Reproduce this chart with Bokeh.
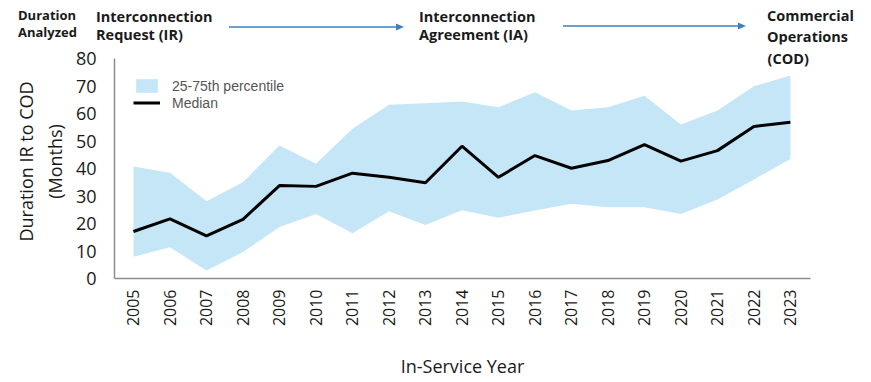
from bokeh.plotting import figure
from bokeh.layouts import column
from bokeh.models import Label, Legend, LegendItem, FixedTicker, Range1d, Div
from bokeh.embed import file_html
from bokeh.resources import INLINE

years = list(range(2005, 2024))
median = [17.1, 21.7, 15.5, 21.5, 33.8, 33.5, 38.3, 36.8, 34.8, 48.1, 36.8, 44.7,
          40.1, 42.9, 48.7, 42.7, 46.5, 55.3, 56.8]
p75 = [40.7, 38.5, 28.1, 35.0, 48.4, 41.7, 54.5, 63.2, 63.7, 64.4, 62.3, 67.7,
       61.1, 62.3, 66.5, 56.0, 61.1, 69.9, 73.8]
p25 = [7.9, 11.4, 2.9, 9.6, 18.7, 23.5, 16.5, 24.5, 19.5, 24.8, 22.1, 24.7,
       27.2, 25.9, 25.9, 23.5, 28.7, 36.0, 43.5]
y_ticks = [0, 10, 20, 30, 40, 50, 60, 70, 80]
stages = ["Interconnection<br>Request (IR)", "Interconnection<br>Agreement (IA)",
          "Commercial<br>Operations"]

FONT = "Open Sans"
TXT = "#1a1a1a"
ACOL = "#3D7FBF"
W = 865
HEAD_H = 44
MAIN_H = 337

# ---------------- header strip (HTML) ----------------
def block(html, left, top, size, lh):
    return (f'<div style="position:absolute;left:{left}px;top:{top}px;font-size:{size}px;'
            f'line-height:{lh}px;white-space:nowrap;">{html}</div>')


def arrow(x1, x2, y):
    return (f'<line x1="{x1}" y1="{y}" x2="{x2 - 7}" y2="{y}" stroke="{ACOL}" stroke-width="1.5"/>'
            f'<polygon points="{x2 - 8},{y - 3.5} {x2},{y} {x2 - 8},{y + 3.5}" fill="{ACOL}"/>')


html = (f'<div style="position:relative;width:{W}px;height:{HEAD_H}px;font-family:\'{FONT}\';'
        f'font-weight:bold;color:{TXT};overflow:visible;">'
        + block("Duration<br>Analyzed", 18, 7, 13, 17)
        + block(stages[0], 96, 7.5, 14.5, 18)
        + block(stages[1], 419, 7.5, 14.5, 18)
        + block(stages[2], 767, 4.6, 14.5, 21.5)
        + f'<svg style="position:absolute;left:0;top:0;" width="{W}" height="{HEAD_H}">'
        + arrow(229, 404, 27) + arrow(563, 746, 26)
        + '</svg></div>')
head = Div(text=html, width=W, height=HEAD_H, margin=(0, 0, 0, 0))

# ---------------- main chart ----------------
FL, FR, FB = 114, 810, 234          # frame edges in main-figure pixels
X0, X1 = 2004.48, 2023.55
PX_PER_UNIT = 2.75
Y_TOP = FB / PX_PER_UNIT            # frame starts at top of main figure

p = figure(width=W, height=MAIN_H, output_backend="svg", toolbar_location=None,
           x_range=Range1d(X0, X1), y_range=Range1d(0, Y_TOP),
           min_border_left=FL, min_border_top=0, min_border_right=W - FR,
           min_border_bottom=MAIN_H - FB, margin=(0, 0, 0, 0))
p.outline_line_color = None
p.xgrid.visible = False
p.ygrid.visible = False

band = p.varea(x=years, y1=p25, y2=p75, fill_color="#C5E6F6")
med = p.line(x=years, y=median, line_color="black", line_width=3)

legend = Legend(items=[LegendItem(label="25-75th percentile", renderers=[band]),
                       LegendItem(label="Median", renderers=[med])],
                location=(19, FB - 67))
legend.border_line_color = None
legend.background_fill_alpha = 0
legend.margin = 0
legend.padding = 0
legend.spacing = 0
legend.glyph_width = 27
legend.glyph_height = 17
legend.label_height = 17
legend.label_standoff = 12
legend.label_text_font = "Liberation Sans"
legend.label_text_font_size = "14px"
legend.label_text_color = "#555555"
p.add_layout(legend)

p.xaxis.ticker = FixedTicker(ticks=years)
p.xaxis.major_label_orientation = 3.14159265 / 2
p.xaxis.major_label_text_font = FONT
p.xaxis.major_label_text_font_size = "16px"
p.xaxis.major_label_text_color = TXT
p.xaxis.major_label_standoff = 5
p.xaxis.axis_label = "In-Service Year"
p.xaxis.axis_label_text_font = FONT
p.xaxis.axis_label_text_font_size = "18px"
p.xaxis.axis_label_text_font_style = "normal"
p.xaxis.axis_label_text_color = TXT
p.xaxis.axis_label_standoff = 25

p.yaxis.ticker = FixedTicker(ticks=y_ticks)
p.yaxis.bounds = (0, 80)
p.yaxis.major_label_text_font = FONT
p.yaxis.major_label_text_font_size = "18px"
p.yaxis.major_label_text_color = TXT
p.yaxis.major_label_standoff = 12
p.yaxis.axis_label = "Duration IR to COD\n(Months)"
p.yaxis.axis_label_text_font = FONT
p.yaxis.axis_label_text_font_size = "18px"
p.yaxis.axis_label_text_font_style = "normal"
p.yaxis.axis_label_text_color = TXT
p.yaxis.axis_label_standoff = 6

for ax in (p.xaxis, p.yaxis):
    ax.major_tick_line_color = None
    ax.minor_tick_line_color = None
    ax.axis_line_color = "#8c8c8c"
    ax.axis_line_width = 1.5

# third line of the last stage name, which dips into the chart area
p.add_layout(Label(x=X0 + (767 - FL) * (X1 - X0) / (FR - FL),
                   y=(FB - (58 - HEAD_H)) / PX_PER_UNIT,
                   text="(COD)", text_font=FONT, text_font_size="14.5px",
                   text_font_style="bold", text_color=TXT, text_align="left",
                   text_baseline="alphabetic"))

layout = column(head, p, spacing=0)
open("out.html", "w").write(file_html(layout, INLINE))
